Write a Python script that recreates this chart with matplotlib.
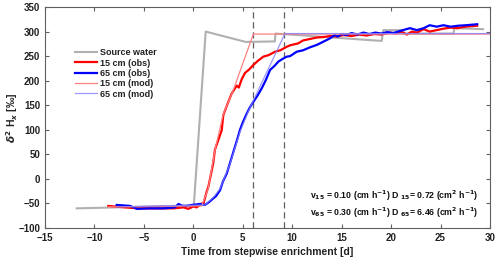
import matplotlib
matplotlib.use("Agg")
import matplotlib.pyplot as plt

plt.rcParams['font.family'] = ['Liberation Sans', 'DejaVu Sans']
plt.rcParams['font.weight'] = 'bold'

# Source water
src_t = [-11.8, 0.05, 1.25, 5.3, 8.25, 8.3, 19.05, 19.2, 21.2, 21.3, 26.3, 26.4, 29.3]
src_v = [-60, -54, 300, 279, 280, 296, 281, 303, 303, 296, 296, 307, 305]

# 15 cm observed
r_t = [-8.6, -6.9, -5.5, -4.0, -2.0, -1.0, -0.5, 0.0, 0.34, 0.85, 1.0, 1.35, 1.52, 2.0, 2.19,
       2.87, 3.03, 3.5, 3.88, 4.39, 4.6, 4.89, 5.23, 5.6, 6.07, 6.5, 7.08, 7.6, 8.26, 8.8, 9.44,
       9.78, 10.6, 11.1, 11.8, 12.5, 13.2, 13.8, 14.5, 15.2, 16.0, 16.8, 17.5, 18.3, 19.0, 19.9,
       20.5, 21.0, 21.6, 22.1, 22.6, 23.3, 23.9, 24.6, 25.3, 26.0, 26.7, 27.5, 28.7]
r_v = [-55, -58, -60, -60, -60, -58, -61, -56, -58, -50, -52, -26, -16, 31, 60,
       99, 130, 155, 174, 190, 186, 203, 216, 222, 232, 240, 249, 252, 259, 262, 269,
       272, 276, 282, 285, 288, 289, 291, 290, 293, 291, 294, 292, 295, 294, 298,
       296, 300, 294, 300, 298, 305, 300, 303, 306, 308, 307, 310, 312]

# 65 cm observed
b_t = [-7.75, -6.4, -5.7, -4.5, -3.0, -1.85, -1.5, -1.1, -0.67, -0.16, 0.3, 0.68, 1.18, 1.6, 2.0,
       2.3, 2.7, 3.0, 3.38, 3.7, 4.05, 4.4, 4.72, 5.0, 5.4, 5.7, 6.07, 6.5, 6.9, 7.3, 7.76,
       8.2, 8.6, 9.0, 9.44, 9.78, 10.45, 11.1, 11.8, 12.5, 13.2, 13.8, 14.3, 14.6, 15.0, 15.5,
       16.0, 16.6, 17.2, 17.8, 18.4, 19.0, 19.6, 20.2, 20.7, 21.2, 21.9, 22.6, 23.3, 23.9,
       24.6, 25.3, 26.0, 26.8, 27.6, 28.7]
b_v = [-53, -55, -61, -60, -60, -58, -51, -55, -55, -53, -52, -51, -53, -47, -40,
       -35, -23, -5, 11, 32, 55, 78, 100, 115, 133, 145, 157, 170, 184, 200, 222,
       230, 239, 244, 249, 250, 259, 262, 268, 273, 280, 286, 293, 290, 295, 293,
       297, 294, 298, 295, 298, 296, 299, 297, 300, 303, 307, 303, 307, 313,
       310, 313, 310, 312, 313, 315]

# 15 cm model
rm_t = [-8.6, 0.85, 1.5, 2.2, 3.0, 4.04, 6.07, 30]
rm_v = [-57, -55, -20, 60, 130, 181, 295, 295]

# 65 cm model
bm_t = [-7.7, 1.2, 2.0, 2.7, 3.7, 4.7, 5.5, 6.57, 9.27, 30]
bm_v = [-57, -53, -38, -20, 30, 95, 135, 181, 296, 296]

vlines = [6.07, 9.2]

fig = plt.figure(figsize=(5.0, 2.61), dpi=100)
ax = fig.add_axes([0.09, 0.1264, 0.89, 0.8466])

ax.plot(src_t, src_v, color='#b0b0b0', lw=1.5, label='Source water', zorder=2)
ax.plot(r_t, r_v, color='#ff0000', lw=1.6, label='15 cm (obs)', zorder=3)
ax.plot(b_t, b_v, color='#0000ff', lw=1.6, label='65 cm (obs)', zorder=3)
ax.plot(rm_t, rm_v, color='#ff8080', lw=0.9, label='15 cm (mod)', zorder=4)
ax.plot(bm_t, bm_v, color='#8080ff', lw=0.9, alpha=0.8, label='65 cm (mod)', zorder=4)
for xv in vlines:
    ax.axvline(xv, color='#606060', lw=0.9, ls=(0, (5, 3)), zorder=1)

ax.set_xlim(-15, 30)
ax.set_ylim(-100, 350)
ax.set_xticks(range(-15, 31, 5))
ax.set_yticks(range(-100, 351, 50))
ax.tick_params(direction='in', top=True, right=True, labelsize=7, length=3,
               color='#606060', labelcolor='#222222')
for lab in ax.get_xticklabels() + ax.get_yticklabels():
    lab.set_fontweight('bold')
for s in ax.spines.values():
    s.set_color('#606060')
    s.set_linewidth(0.8)

ax.set_xlabel('Time from stepwise enrichment [d]', fontsize=7.5, fontweight='bold',
              color='#222222', labelpad=3)
ax.set_ylabel(r'$\delta^2$ H$_x$ [‰]', fontsize=7.5, fontweight='bold', color='#222222')
ax.yaxis.set_label_coords(-0.056, 0.5)

leg = ax.legend(loc='upper left', bbox_to_anchor=(0.06, 0.83), frameon=False, fontsize=6.5,
                handlelength=2.4, handletextpad=0.3, labelspacing=0.15, borderaxespad=0)
for t in leg.get_texts():
    t.set_fontweight('bold')
    t.set_color('#222222')

ax.text(28.8, -35, r'v$_{15}$ = 0.10 (cm h$^{-1}$) D $_{15}$= 0.72 (cm$^2$ h$^{-1}$)',
        fontsize=6.3, fontweight='bold', ha='right', va='center', color='#111111')
ax.text(28.8, -70, r'v$_{65}$ = 0.30 (cm h$^{-1}$) D $_{65}$= 6.46 (cm$^2$ h$^{-1}$)',
        fontsize=6.3, fontweight='bold', ha='right', va='center', color='#111111')

fig.savefig('out.png', dpi=100)
